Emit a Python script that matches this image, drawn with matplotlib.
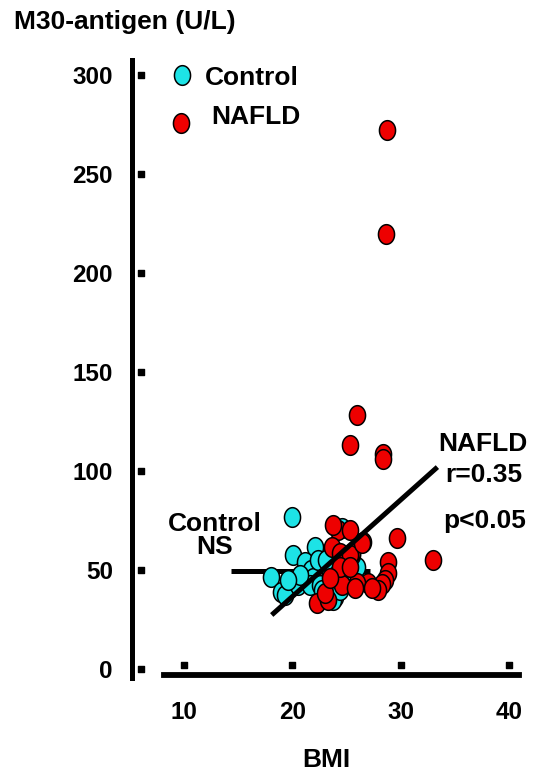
import matplotlib.pyplot as plt
import numpy as np
from matplotlib.path import Path

plt.rcParams["font.family"] = ["Liberation Sans", "DejaVu Sans"]
plt.rcParams["font.weight"] = "bold"

# BMI / M30-antigen values
control_bmi = [19.97, 20.06, 18.03, 18.96, 19.3, 20.5, 22.1, 21.2, 21.7, 21.9,
               21.6, 22.6, 23.2, 23.9, 23.5, 24.6, 25.3, 26.0, 25.1, 24.9,
               23.8, 24.4, 22.4, 23.1, 22.7, 20.7, 19.6, 25.5, 24.2]
control_m30 = [76.8, 57.6, 46.5, 38.9, 37.4, 42.4, 61.6, 54.0, 50.0, 46.0,
               42.4, 42.4, 38.9, 36.4, 48.5, 71.2, 45.0, 51.5, 50.0, 51.5,
               34.8, 39.9, 55.0, 55.0, 39.9, 47.5, 45.0, 57.6, 46.0]

nafld_bmi = [28.74, 28.65, 25.97, 25.33, 28.37, 28.37, 29.67, 32.99, 24.2, 23.76,
             23.65, 25.33, 26.53, 24.4, 25.5, 25.33, 26.44, 28.84, 28.84, 28.56,
             28.28, 27.9, 26.99, 25.97, 24.6, 25.79, 22.28, 23.3, 23.0, 24.4,
             25.33, 27.36, 23.5]
nafld_m30 = [272.2, 219.7, 128.3, 113.1, 108.6, 106.1, 66.2, 55.1, 70.2, 72.7,
             61.6, 70.2, 64.1, 58.6, 58.6, 57.6, 63.6, 54.0, 48.5, 45.0,
             42.9, 39.9, 43.4, 43.4, 42.4, 40.9, 33.3, 34.8, 38.4, 51.5,
             51.5, 40.9, 46.0]

# fitted lines
control_fit_x = [14.3, 27.2]
control_fit_y = [49.5, 49.5]
nafld_fit_x = [18.1, 33.4]
nafld_fit_y = [27.3, 102.0]

x_ticks = [10, 20, 30, 40]
y_ticks = [0, 50, 100, 150, 200, 250, 300]

CYAN = "#1de3e6"
RED = "#ee0000"
FS = 19
TICK_FS = 17.5

# slightly tall ellipse marker, like the original
t = np.linspace(0, 2 * np.pi, 60)
ellipse = Path(np.column_stack([0.82 * np.cos(t), np.sin(t)]), closed=True)

fig = plt.figure(figsize=(5.34, 7.73), dpi=100)
ax = fig.add_axes([0, 0, 1, 1])
ax.set_xlim(-6.99, 42.32)
ax.set_ylim(-52.5, 337.9)
ax.patch.set_visible(False)

pt_style = dict(marker=ellipse, s=200, edgecolors="black", linewidths=1.1, zorder=3)

ax.plot(control_fit_x, control_fit_y, color="black", lw=3.6, zorder=2,
        solid_capstyle="butt")
ax.scatter(control_bmi, control_m30, color=CYAN, **pt_style)
ax.scatter(nafld_bmi, nafld_m30, color=RED, **pt_style)
ax.plot(nafld_fit_x, nafld_fit_y, color="black", lw=3.6, zorder=4,
        solid_capstyle="butt")

# axes: detached spines
for side in ("top", "right"):
    ax.spines[side].set_visible(False)
ax.spines["left"].set_position(("data", 5.24))
ax.spines["left"].set_bounds(-4.5, 307.6)
ax.spines["left"].set_linewidth(3.6)
ax.spines["bottom"].set_position(("data", -3.0))
ax.spines["bottom"].set_bounds(8.15, 40.93)
ax.spines["bottom"].set_linewidth(4.2)

ax.set_xticks(x_ticks)
ax.set_yticks(y_ticks)
ax.tick_params(axis="y", length=0, pad=14, labelsize=TICK_FS)
ax.tick_params(axis="x", length=0, pad=19, labelsize=TICK_FS)
for lbl in ax.get_xticklabels() + ax.get_yticklabels():
    lbl.set_fontweight("bold")

# small square tick marks sitting off the spines
ax.scatter(np.full(len(y_ticks), 5.99), y_ticks, marker="s", s=14,
           color="black", zorder=3, clip_on=False)
ax.scatter(x_ticks, np.full(len(x_ticks), 2.0), marker="s", s=18,
           color="black", zorder=3, clip_on=False)

# legend
ax.scatter([9.8], [300], color=CYAN, **pt_style)
ax.scatter([9.7], [275.8], color=RED, **pt_style)
ax.text(11.94, 298.5, "Control", fontsize=FS, fontweight="bold", va="center")
ax.text(12.5, 278.8, "NAFLD", fontsize=FS, fontweight="bold", va="center")

# labels and annotations
ax.text(-5.7, 326.8, "M30-antigen (U/L)", fontsize=FS, fontweight="bold",
        va="center", ha="left")
ax.text(23.1, -45.8, "BMI", fontsize=FS, fontweight="bold", va="center",
        ha="center")
ax.text(33.45, 113.6, "NAFLD", fontsize=FS, fontweight="bold", va="center")
ax.text(34.1, 98.0, "r=0.35", fontsize=FS, fontweight="bold", va="center")
ax.text(33.9, 75.0, "p<0.05", fontsize=FS, fontweight="bold", va="center")
ax.text(12.86, 73.2, "Control", fontsize=FS, fontweight="bold", va="center",
        ha="center")
ax.text(12.86, 61.6, "NS", fontsize=FS, fontweight="bold", va="center",
        ha="center")

fig.savefig("out.png", dpi=100)
